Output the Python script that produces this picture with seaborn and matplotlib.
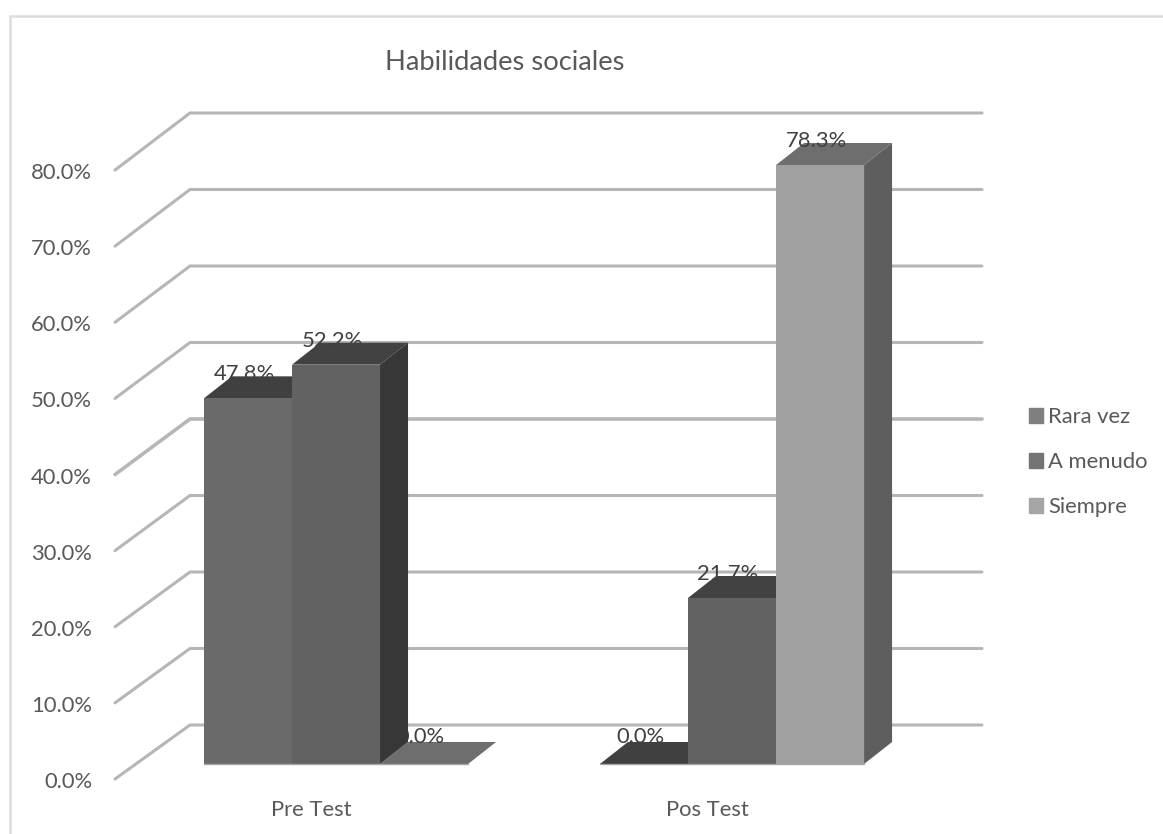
import matplotlib
matplotlib.use('Agg')
import matplotlib.pyplot as plt
from matplotlib.lines import Line2D
from matplotlib.patches import Patch, Polygon
from matplotlib.transforms import Affine2D
import pandas as pd
import seaborn as sns

# Chart values
pruebas = ['Pre Test', 'Pos Test']
series = ['Rara vez', 'A menudo', 'Siempre']
rara_vez = [47.8, 0.0]
a_menudo = [52.2, 21.7]
siempre = [0.0, 78.3]
y_ticks = [0, 10, 20, 30, 40, 50, 60, 70, 80]

# Face colours for the fake 3D look
front_colors = ['#6a6a6a', '#626262', '#a0a0a0']
top_colors = ['#404040', '#424242', '#6e6e6e']
side_colors = ['#3c3c3c', '#373737', '#5e5e5e']
legend_colors = ['#7f7f7f', '#737373', '#a5a5a5']
grid_color = '#b6b6b6'
text_color = '#595959'
label_color = '#404040'

W, H = 1163, 834

df = pd.DataFrame({
    'prueba': pruebas * 3,
    'serie': [s for s in series for _ in pruebas],
    'valor': rara_vez + a_menudo + siempre,
})

sns.set_theme(style='white')
plt.rcParams['font.family'] = ['Lato', 'DejaVu Sans']

fig = plt.figure(figsize=(W / 100, H / 100), dpi=100)
# axes is the plane of the bar fronts
ax = fig.add_axes([138 / W, 1 - 764 / H, 792 / W, 612 / H])
sns.barplot(data=df, x='prueba', y='valor', hue='serie', hue_order=series, order=pruebas,
            palette=front_colors, width=0.667, gap=0, saturation=1, legend=False, ax=ax, zorder=3)
ax.set_xlim(-0.5, 1.5)
ax.set_ylim(0, 80)
ax.set_xlabel('')
ax.set_ylabel('')
sns.despine(ax=ax, left=True, bottom=True)

# pixels -> data units
px_x = 2 / 792
px_y = 80 / 612
front_scale = 0.995  # front edge is a bit shorter than the bar plane

# walls: slanted stroke from the front edge then the line along the back wall
for t in y_ticks:
    xs = [-0.5 - 23 * px_x, -0.5 + 52 * px_x, 1.5 + 52 * px_x]
    ys = [t * front_scale - 15 * px_y, t + 39 * px_y, t + 39 * px_y]
    ax.plot(xs, ys, color=grid_color, lw=2.6 if t == 40 else 2.2, clip_on=False, zorder=1,
            solid_joinstyle='miter')

# bar depth
depth_x = 28 * px_x
depth_y = 22 * px_y

for i, container in enumerate(ax.containers):
    for bar in container:
        x0 = bar.get_x()
        x1 = x0 + bar.get_width()
        h = bar.get_height()
        # flat bars go under everything so the neighbour can hide their label
        z = 2.5 if h == 0 else 3 + i * 0.1 - 0.05
        bar.set_zorder(z + 0.02)
        bar.set_edgecolor('none')
        top = Polygon([(x0, h), (x1, h), (x1 + depth_x, h + depth_y), (x0 + depth_x, h + depth_y)],
                      closed=True, fc=top_colors[i], ec='none', zorder=z, clip_on=False)
        side = Polygon([(x1, 0), (x1 + depth_x, depth_y), (x1 + depth_x, h + depth_y), (x1, h)],
                       closed=True, fc=side_colors[i], ec='none', zorder=z, clip_on=False)
        ax.add_patch(top)
        if h > 0:
            ax.add_patch(side)
        ax.text((x0 + x1) / 2 - 4 * px_x, h + (27 if h == 0 else 24) * px_y, f'{h:.1f}%',
                ha='center', va='center', fontsize=15.8, color=label_color,
                zorder=2.6 if h == 0 else 10)
        ax.plot([x0, x1], [0, 0], color='#a6a6a6', lw=1, clip_on=False, zorder=4)

# tick labels sit on the front edge, not on the bar plane
ax.set_yticks(y_ticks)
ax.set_yticklabels([f'{t:.1f}%' for t in y_ticks])
ax.tick_params(axis='y', length=0, pad=33, labelsize=15.8, labelcolor=text_color)
ax.tick_params(axis='x', length=0, pad=26, labelsize=15.8, labelcolor=text_color)
for lab, t in zip(ax.get_yticklabels(), y_ticks):
    shift = 16 + t * (1 - front_scale) / px_y
    lab.set_transform(lab.get_transform() + Affine2D().translate(0, -shift))
for lab in ax.get_xticklabels():
    lab.set_transform(lab.get_transform() + Affine2D().translate(-25, 0))

fig.text(505 / W, 1 - 63 / H, 'Habilidades sociales', ha='center', va='center',
         fontsize=19.7, color=text_color)

handles = [Patch(color=c, label=s) for c, s in zip(legend_colors, series)]
fig.legend(handles=handles, loc='center left', bbox_to_anchor=(1009 / W, 1 - 462 / H),
           frameon=False, fontsize=15.8, labelcolor=text_color, handlelength=0.64,
           handleheight=0.64, handletextpad=0.25, labelspacing=1.14)

# only the top and left edges of the chart border are inside the crop
fig.add_artist(Line2D([10 / W, 10 / W, 1], [0, 1 - 15.5 / H, 1 - 15.5 / H], color='#dcdcdc', lw=1.8,
                      transform=fig.transFigure, solid_joinstyle='miter'))

fig.savefig('out.png', dpi=100)
plt.close(fig)
